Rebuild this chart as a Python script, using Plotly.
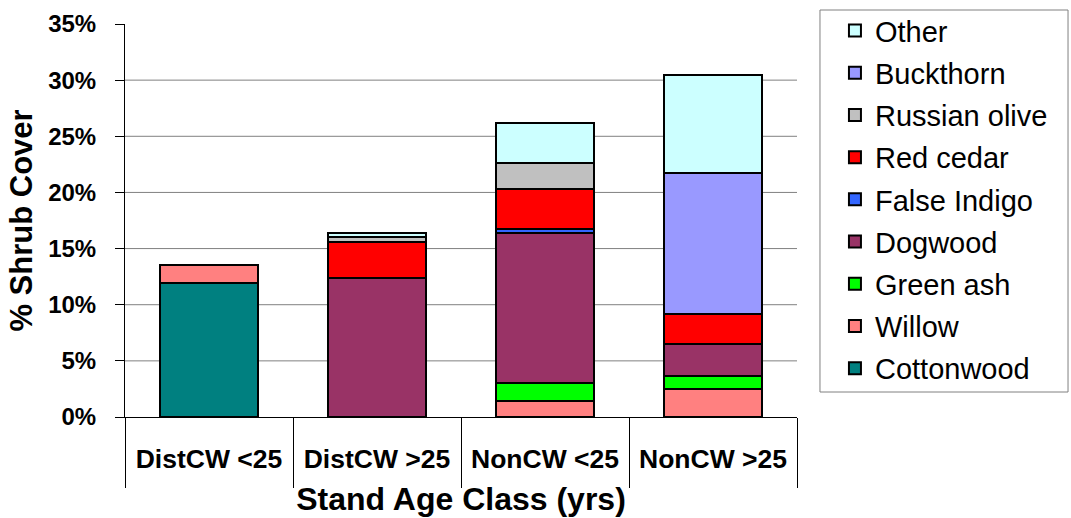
import plotly.graph_objects as go

# Stand age classes and % shrub cover per species
classes = ['DistCW <25', 'DistCW >25', 'NonCW <25', 'NonCW >25']

cottonwood = [11.9, 0, 0, 0]
willow = [1.6, 0, 1.4, 2.5]
green_ash = [0, 0, 1.6, 1.15]
dogwood = [0, 12.4, 13.35, 2.85]
false_indigo = [0, 0, 0.35, 0]
red_cedar = [0, 3.2, 3.6, 2.7]
russian_olive = [0, 0.4, 2.3, 0]
buckthorn = [0, 0, 0, 12.55]
other = [0, 0.4, 3.55, 8.7]

y_ticks = [0, 5, 10, 15, 20, 25, 30, 35]
y_labels = [f'{v}%' for v in y_ticks]

series = [
    ('Cottonwood', cottonwood, '#008080'),
    ('Willow', willow, '#FF8080'),
    ('Green ash', green_ash, '#00FF00'),
    ('Dogwood', dogwood, '#993366'),
    ('False Indigo', false_indigo, '#3366FF'),
    ('Red cedar', red_cedar, '#FF0000'),
    ('Russian olive', russian_olive, '#C0C0C0'),
    ('Buckthorn', buckthorn, '#9999FF'),
    ('Other', other, '#CCFFFF'),
]

fig = go.Figure()
for i, (name, vals, col) in enumerate(series):
    # stack bottom-up, legend top-down (Other first)
    fig.add_trace(go.Bar(x=classes, y=vals, name=name, legendgroup=name,
                         legendrank=100 - i,
                         marker=dict(color=col, line=dict(color='black', width=2))))

# gridlines (no line at the top of the axis)
for v in y_ticks[1:-1]:
    fig.add_shape(type='line', xref='paper', x0=0, x1=1, yref='y', y0=v, y1=v,
                  line=dict(color='#808080', width=1), layer='below')

# legend frame
fig.add_shape(type='rect', xref='paper', yref='paper',
              x0=1.0342, x1=1.4033, y0=0.0636, y1=1.0356,
              line=dict(color='#808080', width=1), fillcolor='rgba(0,0,0,0)')

font = 'Liberation Sans, Arial, sans-serif'

fig.update_layout(
    barmode='stack',
    bargap=0.42,
    width=1071, height=518,
    margin=dict(l=125, r=274, t=24, b=101, autoexpand=False),
    paper_bgcolor='white', plot_bgcolor='white',
    font=dict(family=font, color='black'),
    showlegend=True,
    legend=dict(
        traceorder='grouped',
        xref='container', yref='container',
        x=0.7796, y=0.990, xanchor='left', yanchor='top',
        bgcolor='rgba(0,0,0,0)', borderwidth=0,
        font=dict(size=29, family=font),
        tracegroupgap=1.5,
        maxheight=510,
    ),
    xaxis=dict(
        type='category', automargin=False,
        showline=True, linecolor='black', linewidth=1,
        ticks='outside', tickson='boundaries', ticklen=70, tickcolor='black',
        tickangle=0,
        ticklabelstandoff=18,
        tickfont=dict(size=26.5, family=font, weight='bold'),
        title=dict(text='Stand Age Class (yrs)', standoff=14,
                   font=dict(size=32, family=font, weight='bold')),
    ),
    yaxis=dict(
        range=[0, 35], automargin=False,
        tickvals=y_ticks,
        ticktext=y_labels,
        showgrid=False, zeroline=False,
        showline=True, linecolor='black', linewidth=1,
        ticks='outside', ticklen=9, tickcolor='black',
        ticklabelstandoff=14,
        tickfont=dict(size=24, family=font, weight='bold'),
        title=dict(text='% Shrub Cover', standoff=6,
                   font=dict(size=31, family=font, weight='bold')),
    ),
)

fig.write_html('out.html', config={'displayModeBar': False},
               post_script="document.body.style.margin='0';")
